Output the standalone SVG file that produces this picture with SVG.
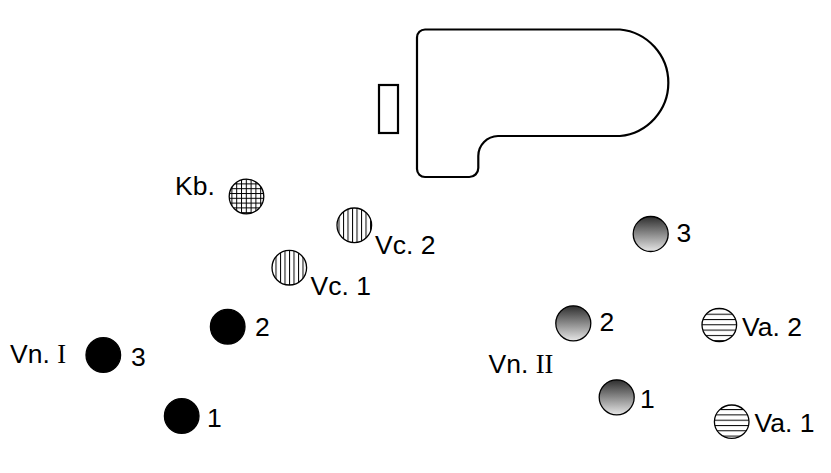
<svg xmlns="http://www.w3.org/2000/svg" width="831" height="473" viewBox="0 0 831 473">
<style>
.lbl{font-family:"Liberation Sans",Arial,sans-serif;font-size:26.5px;fill:#000}
.rom{font-family:"Liberation Serif","Times New Roman",serif}
.outl{fill:none;stroke:#000;stroke-width:2.2}
.seat{stroke:#000;stroke-width:1.3}
.vn1{fill:#000}
.vn2{fill:url(#grey)}
.kb{fill:url(#grid)}
.vc{fill:url(#vert)}
.va{fill:url(#horiz)}
</style>
<defs>
<linearGradient id="grey" x1="0" y1="0" x2="0" y2="1">
<stop offset="0" stop-color="#2e2e2e"/>
<stop offset="1" stop-color="#e6e6e6"/>
</linearGradient>
<pattern id="vert" patternUnits="userSpaceOnUse" width="4.5" height="10" x="1">
<rect width="4.5" height="10" fill="#fff"/>
<line x1="0.5" y1="0" x2="0.5" y2="10" stroke="#000" stroke-width="1"/>
</pattern>
<pattern id="horiz" patternUnits="userSpaceOnUse" width="10" height="5.3" y="1">
<rect width="10" height="5.3" fill="#fff"/>
<line x1="0" y1="0.5" x2="10" y2="0.5" stroke="#000" stroke-width="1"/>
</pattern>
<pattern id="grid" patternUnits="userSpaceOnUse" width="4.8" height="4.8" x="1" y="1">
<rect width="4.8" height="4.8" fill="#fff"/>
<line x1="0.5" y1="0" x2="0.5" y2="4.8" stroke="#000" stroke-width="1"/>
<line x1="0" y1="0.5" x2="4.8" y2="0.5" stroke="#000" stroke-width="1"/>
</pattern>
</defs>

<g id="piano">
<path class="outl" d="M425,29.5 H620 A53.5,53.5 0 0 1 620,136 H498 A20,20 0 0 0 478.3,156 V168 A9,9 0 0 1 469.3,177 H425 A8,8 0 0 1 417,169 V37.5 A8,8 0 0 1 425,29.5 Z"/>
</g>
<g id="bench">
<rect class="outl" x="379" y="85" width="19" height="48"/>
</g>

<g id="kb">
<circle class="seat kb" cx="246.5" cy="196.5" r="17.3"/>
<text class="lbl" x="175" y="195">Kb.</text>
</g>
<g id="vc2">
<circle class="seat vc" cx="354.3" cy="225.3" r="17.3"/>
<text class="lbl" x="375" y="254">Vc. 2</text>
</g>
<g id="vc1">
<circle class="seat vc" cx="289.3" cy="267.7" r="17.3"/>
<text class="lbl" x="310.5" y="295">Vc. 1</text>
</g>

<g id="vn1-3">
<circle class="seat vn1" cx="103.3" cy="355" r="17.3"/>
<text class="lbl" x="10" y="363">Vn. <tspan class="rom">I</tspan></text>
<text class="lbl" x="131" y="366">3</text>
</g>
<g id="vn1-2">
<circle class="seat vn1" cx="227.7" cy="326.7" r="17.3"/>
<text class="lbl" x="255" y="336">2</text>
</g>
<g id="vn1-1">
<circle class="seat vn1" cx="181.7" cy="416" r="17.3"/>
<text class="lbl" x="207" y="427">1</text>
</g>

<g id="vn2-3">
<circle class="seat vn2" cx="650.7" cy="234" r="17.5"/>
<text class="lbl" x="676.5" y="242">3</text>
</g>
<g id="vn2-2">
<circle class="seat vn2" cx="573.3" cy="323.3" r="17.5"/>
<text class="lbl" x="599.5" y="331">2</text>
</g>
<g id="vn2-1">
<circle class="seat vn2" cx="616.7" cy="397.3" r="17.5"/>
<text class="lbl" x="488.5" y="373">Vn. <tspan class="rom">II</tspan></text>
<text class="lbl" x="640" y="408">1</text>
</g>

<g id="va2">
<ellipse class="seat va" cx="719.3" cy="325" rx="17.3" ry="16.7"/>
<text class="lbl" x="742" y="336">Va. 2</text>
</g>
<g id="va1">
<ellipse class="seat va" cx="731.7" cy="421.7" rx="17.3" ry="16.7"/>
<text class="lbl" x="754.5" y="432">Va. 1</text>
</g>

<g id="connectors"></g>
</svg>
